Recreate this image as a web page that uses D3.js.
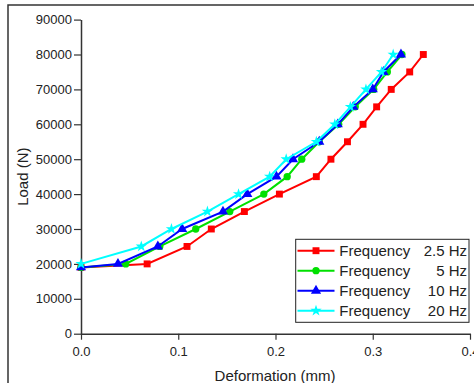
<!DOCTYPE html>
<html>
<head>
<meta charset="utf-8">
<script src="https://cdn.jsdelivr.net/npm/d3@7"></script>
<style>
  body { margin: 0; background: #fff; }
  text { font-family: "Liberation Sans", Arial, sans-serif; fill: #222; }
</style>
</head>
<body>
<div id="chart"></div>
<script>
// data
const loads = [19000, 20000, 25000, 30000, 35000, 40000, 45000, 50000, 55000, 60000, 65000, 70000, 75000, 80000];
const def25 = [0, 0.068, 0.109, 0.134, 0.168, 0.204, 0.242, 0.257, 0.274, 0.290, 0.304, 0.319, 0.338, 0.352];
const def5 = [0, 0.046, 0.081, 0.118, 0.153, 0.188, 0.212, 0.227, 0.245, 0.265, 0.282, 0.301, 0.315, 0.330];
const def10 = [0, 0.038, 0.079, 0.104, 0.146, 0.171, 0.201, 0.218, 0.245, 0.264, 0.280, 0.300, 0.311, 0.329];
const loads20 = [20000, 25000, 30000, 35000, 40000, 45000, 50000, 55000, 60000, 65000, 70000, 75000, 80000];
const def20 = [0, 0.062, 0.093, 0.130, 0.162, 0.194, 0.211, 0.242, 0.261, 0.277, 0.293, 0.309, 0.321];

const seriesNames = ["Frequency 2.5 Hz", "Frequency 5 Hz", "Frequency 10 Hz", "Frequency 20 Hz"];
const legendNums = ["2.5 Hz", "5 Hz", "10 Hz", "20 Hz"];
const colors = ["#ff0000", "#00e000", "#0000ff", "#00ffff"];
const symbols = [d3.symbolSquare, d3.symbolCircle, d3.symbolTriangle, d3.symbolStar];
const xTicks = [0, 0.1, 0.2, 0.3, 0.4];
const yTicks = d3.range(0, 90001, 10000);

const series = [
  def25.map((d, i) => [d, loads[i]]),
  def5.map((d, i) => [d, loads[i]]),
  def10.map((d, i) => [d, loads[i]]),
  def20.map((d, i) => [d, loads20[i]])
];

const width = 474, height = 383;
const margin = { left: 81, right: 4, top: 19.6, bottom: 49.3 };

const svg = d3.select("#chart").append("svg")
  .attr("width", width)
  .attr("height", height);

// outer frame
svg.append("rect")
  .attr("x", 8).attr("y", 5)
  .attr("width", width + 10).attr("height", height + 10)
  .attr("fill", "none")
  .attr("stroke", "#333")
  .attr("stroke-width", 1.5);

const x = d3.scaleLinear().domain([0, 0.4]).range([margin.left, margin.left + 389]);
const y = d3.scaleLinear().domain([0, 90000]).range([height - margin.bottom, margin.top]);

// x axis
const gx = svg.append("g").attr("transform", `translate(0,${y(0)})`);
gx.call(d3.axisBottom(x).tickValues(d3.range(0, 0.41, 0.05)).tickSize(4).tickFormat(""));
gx.call(d3.axisBottom(x).tickValues(xTicks).tickSize(6).tickSizeOuter(0).tickFormat(d3.format(".1f")));
gx.selectAll("text").attr("font-size", 13).attr("dy", "1.05em");

// y axis
const gy = svg.append("g").attr("transform", `translate(${x(0)},0)`);
gy.call(d3.axisLeft(y).tickValues(d3.range(0, 90001, 5000)).tickSize(3.5).tickFormat(""));
gy.call(d3.axisLeft(y).tickValues(yTicks).tickSize(7).tickSizeOuter(0).tickFormat(d3.format("d")));
gy.selectAll("text").attr("font-size", 13).attr("x", -9);

svg.selectAll(".domain").attr("stroke", "#333").attr("stroke-width", 1.5);
svg.selectAll(".tick line").attr("stroke", "#333").attr("stroke-width", 1.2);

// axis titles
svg.append("text")
  .attr("x", 275).attr("y", 381)
  .attr("text-anchor", "middle")
  .attr("font-size", 15)
  .text("Deformation (mm)");

svg.append("text")
  .attr("transform", `translate(28,${y(45000)}) rotate(-90)`)
  .attr("text-anchor", "middle")
  .attr("font-size", 15)
  .text("Load (N)");

const line = d3.line().x(d => x(d[0])).y(d => y(d[1]));
const symSizes = [48, 42, 45, 40];

series.forEach((s, i) => {
  const g = svg.append("g");
  g.append("path")
    .datum(s)
    .attr("d", line)
    .attr("fill", "none")
    .attr("stroke", colors[i])
    .attr("stroke-width", 2);
  g.selectAll("path.m")
    .data(s)
    .join("path")
    .attr("class", "m")
    .attr("transform", d => `translate(${x(d[0])},${y(d[1])})`)
    .attr("d", d3.symbol().type(symbols[i]).size(symSizes[i]))
    .attr("fill", colors[i]);
});

// legend
const lg = svg.append("g");
lg.append("rect")
  .attr("x", 295.7).attr("y", 239.3)
  .attr("width", 173.3).attr("height", 83)
  .attr("fill", "#fff")
  .attr("stroke", "#222")
  .attr("stroke-width", 1);

seriesNames.forEach((name, i) => {
  const ry = 250.7 + i * 20;
  lg.append("line")
    .attr("x1", 297.5).attr("x2", 334.5)
    .attr("y1", ry).attr("y2", ry)
    .attr("stroke", colors[i]).attr("stroke-width", 2);
  lg.append("path")
    .attr("transform", `translate(316,${ry})`)
    .attr("d", d3.symbol().type(symbols[i]).size(symSizes[i]))
    .attr("fill", colors[i]);
  lg.append("text")
    .attr("x", 339.3).attr("y", ry + 5.3)
    .attr("font-size", 15)
    .text("Frequency");
  lg.append("text")
    .attr("x", 467).attr("y", ry + 5.3)
    .attr("text-anchor", "end")
    .attr("font-size", 15)
    .text(legendNums[i]);
});
</script>
</body>
</html>
